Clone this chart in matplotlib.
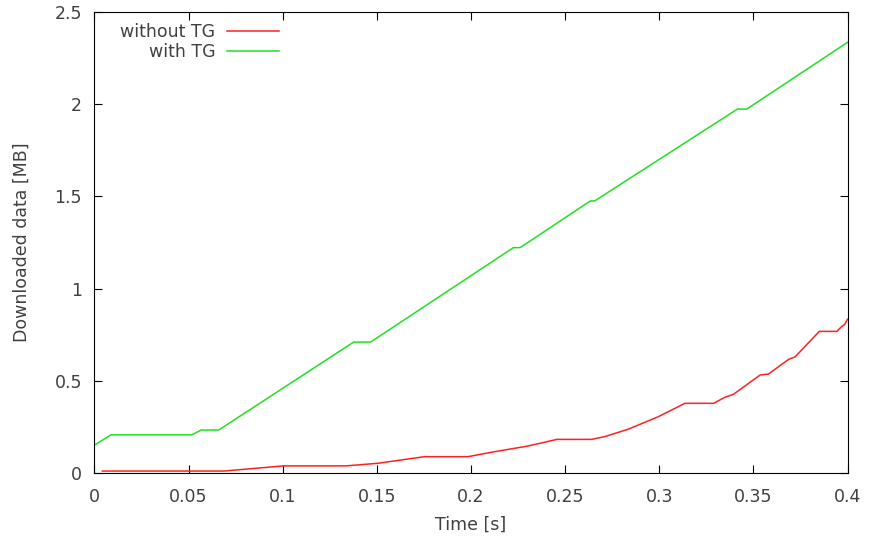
import matplotlib
matplotlib.use('Agg')
import matplotlib.pyplot as plt
from matplotlib.ticker import FormatStrFormatter

# time [s] / downloaded data [MB]
with_tg_t = [0.0, 0.0088, 0.0518, 0.0567, 0.066, 0.1377, 0.1467, 0.2225, 0.2261,
             0.2634, 0.2657, 0.3415, 0.3465, 0.4]
with_tg_mb = [0.149, 0.205, 0.205, 0.231, 0.231, 0.709, 0.709, 1.222, 1.222,
              1.476, 1.476, 1.975, 1.975, 2.338]

without_tg_t = [0.0042, 0.0687, 0.1003, 0.1334, 0.1503, 0.1752, 0.1983, 0.2124, 0.2302,
                0.2456, 0.2639, 0.271, 0.2834, 0.2994, 0.3136, 0.3288, 0.3349, 0.3394,
                0.3536, 0.358, 0.3687, 0.3722, 0.385, 0.3944, 0.3967, 0.3985, 0.4]
without_tg_mb = [0.008, 0.008, 0.036, 0.036, 0.050, 0.086, 0.086, 0.113, 0.144,
                 0.180, 0.180, 0.195, 0.235, 0.303, 0.376, 0.376, 0.409, 0.425,
                 0.530, 0.535, 0.615, 0.629, 0.767, 0.767, 0.792, 0.805, 0.833]

xticks = [0, 0.05, 0.1, 0.15, 0.2, 0.25, 0.3, 0.35, 0.4]
yticks = [0, 0.5, 1, 1.5, 2, 2.5]

txt = '#404040'
fs = 12.5

fig = plt.figure(figsize=(8.69, 5.38), dpi=100)
ax = fig.add_axes([0.1087, 0.1217, 0.8666, 0.8551])

ax.plot(without_tg_t, without_tg_mb, color='#ff2020', lw=1.1, label='without TG')
ax.plot(with_tg_t, with_tg_mb, color='#20e020', lw=1.1, label='with TG')

ax.set_xlim(0, 0.4)
ax.set_ylim(0, 2.5)
ax.set_xticks(xticks)
ax.set_yticks(yticks)
ax.xaxis.set_major_formatter(FormatStrFormatter('%g'))
ax.yaxis.set_major_formatter(FormatStrFormatter('%g'))
ax.tick_params(direction='in', top=True, right=True, length=6, width=0.8,
               labelsize=fs, labelcolor=txt)
ax.tick_params(axis='x', pad=11)
ax.tick_params(axis='y', pad=9)
for s in ax.spines.values():
    s.set_linewidth(0.8)

ax.set_xlabel('Time [s]', fontsize=fs, color=txt, labelpad=7)
ax.set_ylabel('Downloaded data [MB]', fontsize=fs, color=txt, labelpad=17)

leg = ax.legend(loc='upper right', bbox_to_anchor=(0.245, 0.978), frameon=False,
                markerfirst=False, fontsize=fs, handlelength=3.0, handletextpad=0.65,
                borderpad=0, borderaxespad=0, labelspacing=0.15)
for t in leg.get_texts():
    t.set_color(txt)

plt.savefig('out.png', dpi=100)
